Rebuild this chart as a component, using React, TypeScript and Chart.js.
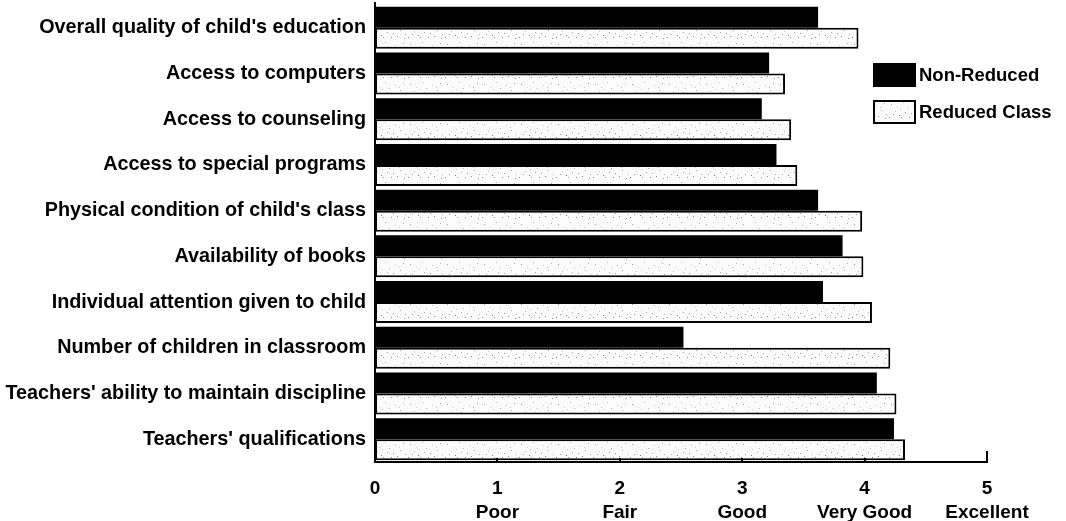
import React, { useEffect, useRef } from "react";
import { Chart, registerables } from "chart.js";

Chart.register(...registerables);

const categories = [
  "Overall quality of child's education",
  "Access to computers",
  "Access to counseling",
  "Access to special programs",
  "Physical condition of child's class",
  "Availability of books",
  "Individual attention given to child",
  "Number of children in classroom",
  "Teachers' ability to maintain discipline",
  "Teachers' qualifications",
];
const nonReduced = [3.62, 3.22, 3.16, 3.28, 3.62, 3.82, 3.66, 2.52, 4.1, 4.24];
const reducedClass = [3.95, 3.35, 3.4, 3.45, 3.98, 3.99, 4.06, 4.21, 4.26, 4.33];
const seriesNames = ["Non-Reduced", "Reduced Class"];
const tickNumbers = ["0", "1", "2", "3", "4", "5"];
const tickWords = ["", "Poor", "Fair", "Good", "Very Good", "Excellent"];

const FONT = "'Liberation Sans', Arial, Helvetica, sans-serif";

function makeSpeckle(ctx: CanvasRenderingContext2D): CanvasPattern | string {
  const c = document.createElement("canvas");
  c.width = 37;
  c.height = 20;
  const p = c.getContext("2d");
  if (!p) return "#f2f2f2";
  p.fillStyle = "#fbfbfb";
  p.fillRect(0, 0, c.width, c.height);
  const dots: [number, number, string][] = [
    [3, 4, "#9a9a9a"], [11, 15, "#7a7a7a"], [19, 8, "#b0b0b0"], [27, 16, "#888"],
    [33, 3, "#aaa"], [7, 11, "#c0c0c0"], [23, 13, "#999"], [15, 2, "#bbb"],
    [30, 10, "#a5a5a5"], [1, 17, "#8c8c8c"], [13, 17, "#9e9e9e"], [35, 14, "#b5b5b5"],
    [21, 17, "#909090"], [9, 7, "#d0d0d0"], [25, 5, "#c5c5c5"], [5, 14, "#a0a0a0"],
    [17, 12, "#a8a8a8"], [29, 7, "#bcbcbc"], [12, 9, "#c8c8c8"], [34, 18, "#959595"],
  ];
  dots.forEach(([x, y, col]) => {
    p.fillStyle = col;
    p.fillRect(x, y, 1, 1);
  });
  return ctx.createPattern(c, "repeat") || "#f2f2f2";
}

const axisPlugin = {
  id: "axisTicksUp",
  afterDatasetsDraw(chart: any) {
    const { ctx, chartArea, scales } = chart;
    const xs = scales.x;
    ctx.save();
    ctx.strokeStyle = "#000";
    ctx.lineWidth = 2;
    ctx.beginPath();
    ctx.moveTo(chartArea.left, chartArea.bottom);
    ctx.lineTo(chartArea.right + 1, chartArea.bottom);
    ctx.stroke();
    ctx.beginPath();
    ctx.moveTo(chartArea.left, chartArea.top - 3);
    ctx.lineTo(chartArea.left, chartArea.bottom + 1);
    ctx.stroke();
    const n = xs.ticks.length;
    xs.ticks.forEach((t: any, i: number) => {
      if (i === 0) return;
      const px = Math.round(xs.getPixelForValue(t.value));
      const len = i === n - 1 ? 11 : 4;
      ctx.beginPath();
      ctx.moveTo(px, chartArea.bottom + 1);
      ctx.lineTo(px, chartArea.bottom - len);
      ctx.stroke();
    });
    ctx.restore();
  },
};

const legendPlugin = {
  id: "insideLegend",
  afterDraw(chart: any) {
    const { ctx } = chart;
    ctx.save();
    chart.data.datasets.forEach((ds: any, i: number) => {
      const bx = 874;
      const by = 64 + i * 37;
      const bw = 41;
      const bh = 22;
      ctx.fillStyle = ds.backgroundColor;
      ctx.fillRect(bx, by, bw, bh);
      ctx.strokeStyle = "#000";
      ctx.lineWidth = 2;
      ctx.strokeRect(bx, by, bw, bh);
      ctx.fillStyle = "#000";
      ctx.font = `bold 18.5px ${FONT}`;
      ctx.textBaseline = "middle";
      ctx.textAlign = "left";
      ctx.fillText(ds.label, bx + bw + 4, by + bh / 2 + 1);
    });
    ctx.restore();
  },
};

export default function App() {
  const ref = useRef<HTMLCanvasElement | null>(null);

  useEffect(() => {
    document.body.style.margin = "0";
    const canvas = ref.current;
    if (!canvas) return;
    const ctx = canvas.getContext("2d");
    if (!ctx) return;
    const speckle = makeSpeckle(ctx);

    const chart = new Chart(ctx, {
      type: "bar",
      data: {
        labels: categories,
        datasets: [
          {
            label: seriesNames[0],
            data: nonReduced,
            backgroundColor: "#000000",
            borderWidth: 0,
            categoryPercentage: 0.92,
            barPercentage: 1.0,
          },
          {
            label: seriesNames[1],
            data: reducedClass,
            backgroundColor: speckle as any,
            borderColor: "#000000",
            borderWidth: 2,
            borderSkipped: false,
            categoryPercentage: 0.92,
            barPercentage: 1.0,
          },
        ],
      },
      options: {
        indexAxis: "y",
        responsive: false,
        animation: false,
        devicePixelRatio: 1,
        layout: { padding: { top: 5, right: 79, bottom: 0, left: 0 } },
        plugins: {
          legend: { display: false },
          tooltip: { enabled: false },
        },
        scales: {
          x: {
            type: "linear",
            min: 0,
            max: 5,
            ticks: {
              stepSize: 1,
              color: "#000",
              padding: 15,
              font: { family: FONT, size: 19, weight: "bold", lineHeight: 1.25 },
              maxRotation: 0,
              callback: (_v: any, i: number) => [tickNumbers[i], tickWords[i]],
            },
            grid: { display: false, drawTicks: false },
            border: { display: false },
            afterFit: (s: any) => {
              s.height = 59;
            },
          },
          y: {
            type: "category",
            ticks: {
              color: "#000",
              padding: 9,
              autoSkip: false,
              font: { family: FONT, size: 19.8, weight: "bold" },
            },
            grid: { display: false, drawTicks: false },
            border: { display: false },
            afterFit: (s: any) => {
              s.width = 375;
              s.paddingTop = 0;
              s.paddingBottom = 0;
            },
          },
        },
      },
      plugins: [axisPlugin, legendPlugin],
    });

    return () => chart.destroy();
  }, []);

  return (
    <div style={{ width: 1066, height: 521, position: "relative", background: "#fff" }}>
      <canvas ref={ref} width={1066} height={521} />
    </div>
  );
}
